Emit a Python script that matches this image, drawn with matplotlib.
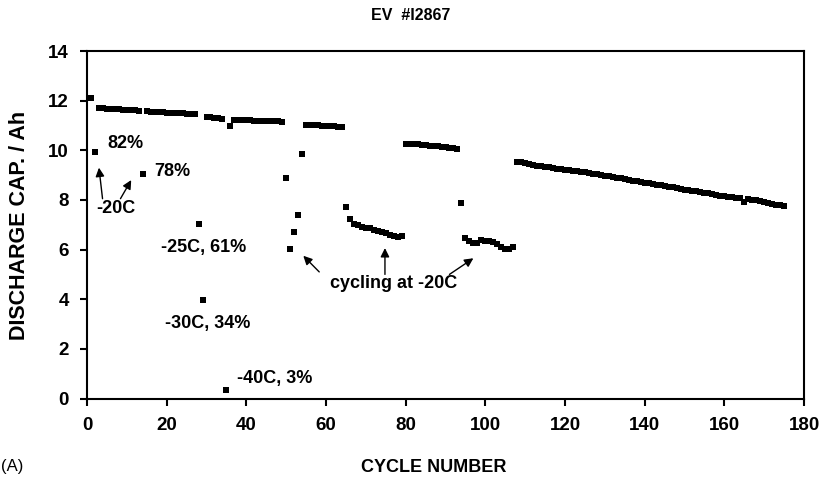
import matplotlib
matplotlib.use("Agg")
import matplotlib.pyplot as plt

plt.rcParams['font.family'] = ['Liberation Sans', 'DejaVu Sans']

# cycle number and discharge capacity (Ah), cell EV #I2867
cycle = list(range(1, 176))
capacity = [
    12.10, 9.92,
    11.70, 11.69, 11.68, 11.67, 11.66, 11.65, 11.64, 11.63, 11.62, 11.61, 11.60,
    9.05,
    11.57, 11.56, 11.55, 11.54, 11.53, 11.52, 11.51, 11.51, 11.50, 11.49, 11.48, 11.47, 11.46,
    7.04, 3.97,
    11.36, 11.34, 11.32, 11.30, 11.28,
    0.34, 10.97,
    11.24, 11.23, 11.23, 11.22, 11.21, 11.20, 11.20, 11.19, 11.18, 11.17, 11.17, 11.16, 11.15,
    8.90, 6.03, 6.72, 7.40, 9.86,
    11.03, 11.02, 11.01, 11.00, 10.99, 10.98, 10.97, 10.96, 10.95, 10.93,
    7.70,
    7.24, 7.05, 6.97, 6.90, 6.87, 6.85, 6.78, 6.74, 6.70, 6.66, 6.58, 6.53, 6.50, 6.54,
    10.25, 10.27, 10.27, 10.25, 10.23, 10.21, 10.19, 10.18, 10.16, 10.14, 10.12, 10.11, 10.09, 10.07,
    7.86,
    6.47, 6.35, 6.28, 6.28, 6.37, 6.36, 6.33, 6.30, 6.22, 6.12, 6.04, 6.03, 6.10,
    9.54, 9.51, 9.48, 9.44, 9.41, 9.38, 9.35, 9.33, 9.31, 9.29, 9.26, 9.24, 9.22, 9.20,
    9.18, 9.16, 9.14, 9.12, 9.10, 9.03, 9.06, 9.00, 8.98, 8.95, 8.93, 8.90, 8.87, 8.84,
    8.81, 8.78, 8.76, 8.73, 8.70, 8.67, 8.64, 8.62, 8.60, 8.57, 8.54, 8.51, 8.48, 8.45,
    8.42, 8.40, 8.37, 8.35, 8.32, 8.29, 8.26, 8.23, 8.20, 8.17, 8.14, 8.12, 8.10, 8.08,
    8.06, 7.90, 8.03, 8.01, 7.98, 7.95, 7.91, 7.88, 7.85, 7.81, 7.78, 7.76,
]

x_ticks = list(range(0, 181, 20))
y_ticks = list(range(0, 15, 2))

# labels: text, x, y
labels = [
    ("82%", 5.2, 10.26),
    ("78%", 17.0, 9.13),
    ("-20C", 2.2, 7.64),
    ("-25C, 61%", 18.7, 6.07),
    ("-30C, 34%", 19.5, 3.04),
    ("-40C, 3%", 37.6, 0.79),
    ("cycling at -20C", 60.9, 4.62),
]
# arrows: tail -> tip
arrows = [
    ((3.9, 8.05), (3.0, 9.3)),
    ((8.4, 8.05), (11.1, 8.8)),
    ((58.3, 5.1), (54.3, 5.75)),
    ((74.8, 5.0), (74.8, 6.06)),
    ((91.0, 5.0), (97.0, 5.65)),
]

W, H = 822, 483
fig = plt.figure(figsize=(W / 100, H / 100), dpi=100)
ax = fig.add_axes([87 / W, 1 - 398.5 / H, (804 - 87) / W, (398.5 - 51) / H])

ax.plot(cycle, capacity, 's', color='black', markersize=4.3, markeredgewidth=0)

ax.set_xlim(0, 180)
ax.set_ylim(0, 14)
ax.set_xticks(x_ticks)
ax.set_yticks(y_ticks)
ax.tick_params(direction='out', length=5, width=1.5, labelsize=13.5, pad=8)
for lab in ax.get_xticklabels() + ax.get_yticklabels():
    lab.set_fontweight('bold')
for s in ax.spines.values():
    s.set_linewidth(1.5)

for txt, x, y in labels:
    ax.text(x, y, txt, fontsize=13, fontweight='bold', ha='left', va='center')

for tail, tip in arrows:
    ax.annotate("", xy=tip, xytext=tail,
                arrowprops=dict(arrowstyle='-|>', color='black', lw=1, mutation_scale=13,
                                shrinkA=0, shrinkB=0))

fig.text(411 / W, 1 - 15 / H, "EV  #I2867", fontsize=11.5, fontweight='bold', ha='center', va='center')
fig.text(434 / W, 1 - 467 / H, "CYCLE NUMBER", fontsize=13, fontweight='bold', ha='center', va='center')
fig.text(0.5 / W, 1 - 467 / H, "(A)", fontsize=12, ha='left', va='center')
fig.text(20 / W, 1 - 225 / H, "DISCHARGE CAP. / Ah", fontsize=15.5, fontweight='bold',
         ha='center', va='center', rotation=90)

fig.savefig("out.png", dpi=100)
